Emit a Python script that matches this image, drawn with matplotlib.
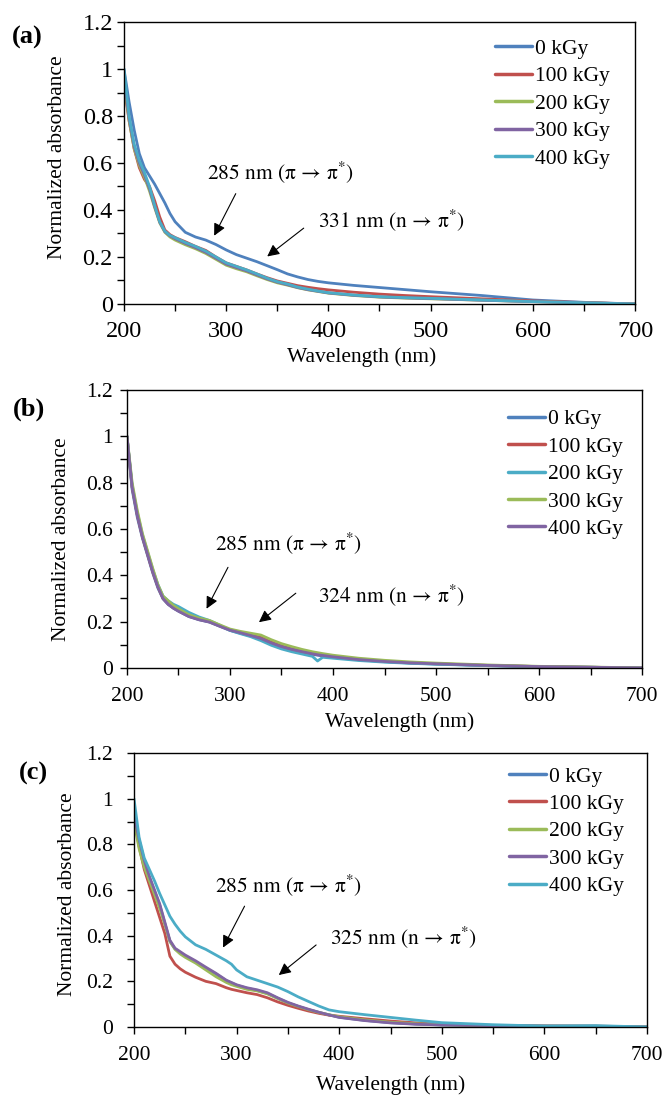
import matplotlib
matplotlib.use("Agg")
import matplotlib.pyplot as plt

plt.rcParams['font.family'] = ['Liberation Serif', 'DejaVu Serif']
plt.rcParams['mathtext.fontset'] = 'stix'

# ----------------------------
# DATA
# ----------------------------
doses = ["0 kGy", "100 kGy", "200 kGy", "300 kGy", "400 kGy"]

# panel (a)
wl_a = [200, 205, 210, 215, 220, 225, 230, 235, 240, 245, 250, 260, 270, 280, 290,
        300, 310, 320, 330, 340, 350, 360, 370, 380, 390, 400, 425, 450, 475, 500,
        550, 600, 650, 700]
a_0 = [1.0, 0.86, 0.74, 0.64, 0.58, 0.545, 0.51, 0.47, 0.43, 0.385, 0.35, 0.305, 0.285,
       0.272, 0.253, 0.23, 0.21, 0.195, 0.18, 0.163, 0.146, 0.128, 0.115, 0.104, 0.096,
       0.09, 0.079, 0.07, 0.061, 0.052, 0.036, 0.017, 0.007, 0.0]
a_100 = [0.93, 0.78, 0.66, 0.58, 0.53, 0.5, 0.44, 0.37, 0.315, 0.295, 0.283, 0.265, 0.245,
         0.228, 0.2, 0.175, 0.16, 0.145, 0.128, 0.112, 0.098, 0.088, 0.078, 0.071, 0.065,
         0.06, 0.05, 0.042, 0.036, 0.031, 0.022, 0.013, 0.006, 0.0]
a_200 = [0.95, 0.78, 0.66, 0.59, 0.54, 0.48, 0.41, 0.345, 0.305, 0.285, 0.272, 0.252, 0.235,
         0.215, 0.19, 0.165, 0.15, 0.137, 0.12, 0.104, 0.09, 0.08, 0.069, 0.06, 0.053,
         0.046, 0.036, 0.029, 0.025, 0.022, 0.016, 0.01, 0.005, 0.0]
a_300 = [0.97, 0.79, 0.67, 0.6, 0.55, 0.49, 0.415, 0.348, 0.308, 0.29, 0.278, 0.258, 0.24,
         0.22, 0.195, 0.17, 0.155, 0.141, 0.124, 0.107, 0.093, 0.082, 0.07, 0.061, 0.054,
         0.047, 0.037, 0.03, 0.026, 0.023, 0.016, 0.01, 0.005, 0.0]
a_400 = [1.0, 0.8, 0.68, 0.61, 0.56, 0.5, 0.42, 0.35, 0.31, 0.292, 0.282, 0.262, 0.245,
         0.225, 0.2, 0.175, 0.16, 0.145, 0.128, 0.11, 0.095, 0.085, 0.072, 0.063, 0.055,
         0.048, 0.038, 0.031, 0.027, 0.024, 0.017, 0.01, 0.005, 0.0]

# panel (b)
wl_b = [200, 205, 210, 215, 220, 225, 230, 235, 240, 245, 250, 260, 270, 280, 290,
        300, 310, 320, 330, 340, 350, 360, 370, 380, 385, 390, 400, 425, 450, 475,
        500, 550, 600, 650, 700]
b_0 = [1.0, 0.77, 0.65, 0.56, 0.485, 0.41, 0.345, 0.298, 0.274, 0.258, 0.245, 0.222, 0.208,
       0.198, 0.18, 0.162, 0.15, 0.138, 0.125, 0.106, 0.09, 0.078, 0.068, 0.059, 0.055,
       0.052, 0.046, 0.035, 0.027, 0.021, 0.017, 0.01, 0.006, 0.003, 0.0]
b_100 = [1.0, 0.78, 0.66, 0.565, 0.49, 0.415, 0.35, 0.3, 0.276, 0.26, 0.247, 0.224, 0.21,
         0.2, 0.182, 0.165, 0.154, 0.143, 0.132, 0.112, 0.095, 0.082, 0.072, 0.062, 0.058,
         0.055, 0.049, 0.037, 0.028, 0.022, 0.018, 0.011, 0.006, 0.003, 0.0]
b_200 = [1.0, 0.79, 0.67, 0.575, 0.5, 0.425, 0.36, 0.31, 0.29, 0.275, 0.265, 0.24, 0.22,
         0.205, 0.185, 0.162, 0.148, 0.135, 0.118, 0.098, 0.082, 0.07, 0.06, 0.05, 0.03,
         0.046, 0.042, 0.032, 0.025, 0.02, 0.016, 0.01, 0.005, 0.003, 0.0]
b_300 = [1.0, 0.8, 0.68, 0.58, 0.505, 0.43, 0.36, 0.31, 0.29, 0.27, 0.255, 0.23, 0.215,
         0.205, 0.186, 0.168, 0.158, 0.15, 0.142, 0.122, 0.105, 0.092, 0.08, 0.07, 0.066,
         0.062, 0.055, 0.042, 0.033, 0.026, 0.021, 0.013, 0.007, 0.004, 0.0]
b_400 = [1.0, 0.78, 0.66, 0.565, 0.49, 0.415, 0.35, 0.3, 0.275, 0.258, 0.245, 0.222, 0.208,
         0.198, 0.18, 0.163, 0.152, 0.14, 0.127, 0.108, 0.092, 0.08, 0.07, 0.061, 0.057,
         0.054, 0.048, 0.036, 0.028, 0.022, 0.018, 0.011, 0.006, 0.003, 0.0]

# panel (c)
wl_c = [200, 205, 210, 215, 220, 225, 230, 235, 240, 245, 250, 260, 270, 280, 290, 295,
        300, 310, 320, 330, 340, 350, 360, 370, 380, 390, 400, 425, 450, 475, 500,
        550, 600, 650, 700]
c_0 = [0.93, 0.81, 0.72, 0.655, 0.595, 0.535, 0.455, 0.375, 0.342, 0.326, 0.31, 0.285, 0.258,
       0.232, 0.203, 0.193, 0.183, 0.17, 0.16, 0.147, 0.126, 0.106, 0.09, 0.076, 0.064,
       0.053, 0.043, 0.029, 0.019, 0.013, 0.009, 0.006, 0.004, 0.003, 0.0]
c_100 = [0.92, 0.79, 0.69, 0.62, 0.55, 0.48, 0.41, 0.31, 0.275, 0.255, 0.24, 0.218, 0.2,
         0.19, 0.172, 0.165, 0.16, 0.15, 0.142, 0.128, 0.11, 0.095, 0.082, 0.07, 0.06,
         0.052, 0.047, 0.036, 0.026, 0.018, 0.012, 0.007, 0.004, 0.004, 0.0]
c_200 = [0.9, 0.78, 0.7, 0.64, 0.58, 0.52, 0.45, 0.375, 0.34, 0.32, 0.305, 0.28, 0.25,
         0.22, 0.195, 0.185, 0.178, 0.165, 0.158, 0.145, 0.125, 0.105, 0.09, 0.076, 0.064,
         0.054, 0.045, 0.031, 0.021, 0.014, 0.01, 0.006, 0.004, 0.003, 0.0]
c_300 = [0.93, 0.82, 0.73, 0.66, 0.6, 0.54, 0.46, 0.38, 0.345, 0.33, 0.315, 0.29, 0.262,
         0.235, 0.205, 0.195, 0.185, 0.172, 0.163, 0.15, 0.128, 0.108, 0.092, 0.078, 0.065,
         0.053, 0.042, 0.028, 0.018, 0.012, 0.009, 0.006, 0.004, 0.003, 0.0]
c_400 = [1.0, 0.83, 0.74, 0.69, 0.64, 0.585, 0.535, 0.485, 0.45, 0.42, 0.395, 0.36, 0.34,
         0.315, 0.29, 0.275, 0.25, 0.22, 0.205, 0.19, 0.175, 0.155, 0.132, 0.112, 0.092,
         0.075, 0.067, 0.054, 0.042, 0.03, 0.019, 0.01, 0.004, 0.006, 0.0]

# excel 2010 palette
blue, red, green, purple, aqua = "#4F81BD", "#C0504D", "#9BBB59", "#8064A2", "#4BACC6"

panels = [
    dict(tag="(a)", wl=wl_a, ys=[a_0, a_100, a_200, a_300, a_400],
         colors=[blue, red, green, purple, aqua],
         rect=[0.1856, 0.7224, 0.765, 0.2575], tickfs=17.5, ypad=3, xpad=7,
         peak1=(287, 0.28, 310.6, 0.48, 281, 0.56, "285"),
         peak2=(338, 0.195, 378, 0.33, 390, 0.357, "331"),
         leg=(0.726, 0.94), tagpos=(27, 37), ylab=(58, 157), xlab=(362, 357)),
    dict(tag="(b)", wl=wl_b, ys=[b_0, b_100, b_200, b_300, b_400],
         colors=[blue, red, aqua, green, purple],
         rect=[0.1901, 0.39, 0.771, 0.2539], tickfs=15.5, ypad=5, xpad=9,
         peak1=(276, 0.245, 299.3, 0.445, 285.4, 0.54, "285"),
         peak2=(326, 0.19, 366, 0.33, 385.4, 0.315, "324"),
         leg=(0.74, 0.93), tagpos=(29, 409), ylab=(62, 539), xlab=(400, 722)),
    dict(tag="(c)", wl=wl_c, ys=[c_0, c_100, c_200, c_300, c_400],
         colors=[blue, red, green, purple, aqua],
         rect=[0.2006, 0.0621, 0.768, 0.2502], tickfs=15.5, ypad=10, xpad=9,
         peak1=(285.5, 0.337, 309, 0.54, 279, 0.62, "285"),
         peak2=(339, 0.22, 379.6, 0.367, 391, 0.395, "325"),
         leg=(0.731, 0.951), tagpos=(33, 773), ylab=(67, 894), xlab=(391, 1085)),
]

W, H = 668, 1095
fig = plt.figure(figsize=(W / 100, H / 100), dpi=100)

for p in panels:
    ax = fig.add_axes(p["rect"])
    for y, c, lab in zip(p["ys"], p["colors"], doses):
        ax.plot(p["wl"], y, color=c, lw=2.0, label=lab, solid_capstyle='round')

    ax.set_xlim(200, 700)
    ax.set_ylim(0, 1.2)
    ax.set_xticks([200, 300, 400, 500, 600, 700])
    ax.set_xticks([250, 350, 450, 550, 650], minor=True)
    ax.set_yticks([0, 0.2, 0.4, 0.6, 0.8, 1.0, 1.2])
    ax.set_yticklabels(["0", "0.2", "0.4", "0.6", "0.8", "1", "1.2"])
    ax.set_yticks([0.1, 0.3, 0.5, 0.7, 0.9, 1.1], minor=True)
    ax.tick_params(axis='both', which='both', direction='out', length=5, width=1.0)
    ax.tick_params(axis='y', which='major', labelsize=p["tickfs"], pad=p["ypad"])
    ax.tick_params(axis='x', which='major', labelsize=p["tickfs"], pad=p["xpad"])
    for s in ax.spines.values():
        s.set_linewidth(1.0)

    # annotations (STIX has the long times-style arrow)
    tx, ty, sx, sy, lx, ly, nm = p["peak1"]
    ax.annotate('', xy=(tx, ty), xytext=(sx, sy),
                arrowprops=dict(arrowstyle='-|>', color='black', lw=0.8, mutation_scale=18))
    ax.text(lx, ly, nm + r" nm (π → π$^{*}$)", fontsize=15.5, ha='left', va='center',
            family=['STIXGeneral', 'DejaVu Serif'])
    tx, ty, sx, sy, lx, ly, nm = p["peak2"]
    ax.annotate('', xy=(tx, ty), xytext=(sx, sy),
                arrowprops=dict(arrowstyle='-|>', color='black', lw=0.8, mutation_scale=18))
    ax.text(lx, ly, nm + r" nm (n → π$^{*}$)", fontsize=15.5, ha='left', va='center',
            family=['STIXGeneral', 'DejaVu Serif'])

    leg = ax.legend(loc='upper left', bbox_to_anchor=p["leg"], frameon=False,
                    fontsize=15.5, handlelength=1.72, handletextpad=0.12,
                    labelspacing=0.34, borderpad=0, borderaxespad=0)
    for h in leg.get_lines():
        h.set_linewidth(2.5)

    fig.text(p["tagpos"][0] / W, 1 - p["tagpos"][1] / H, p["tag"], fontsize=19,
             fontweight='bold', ha='center', va='center')
    fig.text(p["ylab"][0] / W, 1 - p["ylab"][1] / H, "Normalized absorbance",
             fontsize=15.5, rotation=90, ha='center', va='center')
    fig.text(p["xlab"][0] / W, 1 - p["xlab"][1] / H, "Wavelength (nm)",
             fontsize=15.5, ha='center', va='center')

fig.savefig("out.png", dpi=100)
